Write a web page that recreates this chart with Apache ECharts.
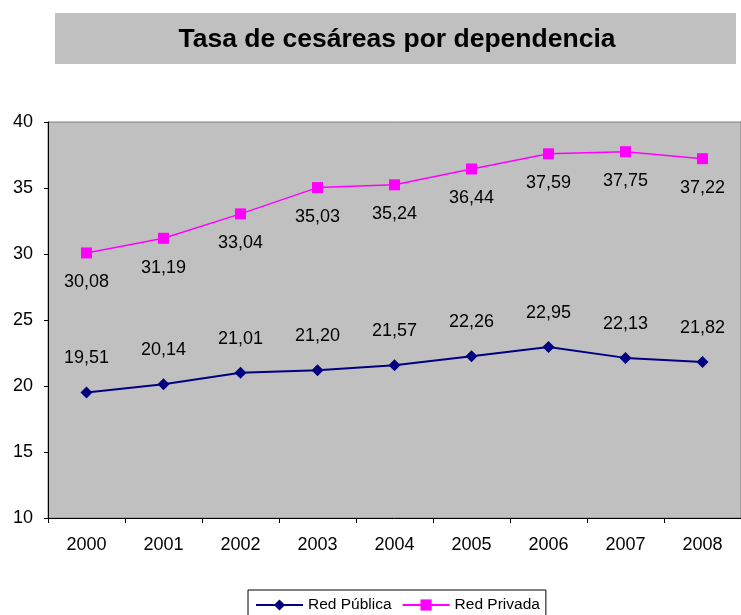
<!DOCTYPE html>
<html>
<head>
<meta charset="utf-8">
<script src="https://cdn.jsdelivr.net/npm/echarts@6/dist/echarts.min.js"></script>
<style>
html,body{margin:0;padding:0;background:#fff;}
#chart{width:741px;height:615px;}
</style>
</head>
<body>
<div id="chart"></div>
<script>
const titleText = 'Tasa de cesáreas por dependencia';
const years = ['2000','2001','2002','2003','2004','2005','2006','2007','2008'];
const redPublica = [19.51, 20.14, 21.01, 21.20, 21.57, 22.26, 22.95, 22.13, 21.82];
const redPrivada = [30.08, 31.19, 33.04, 35.03, 35.24, 36.44, 37.59, 37.75, 37.22];
const seriesNames = ['Red Pública', 'Red Privada'];

const FONT = '"Liberation Sans", Arial, sans-serif';
const fmt = p => p.value.toFixed(2).replace('.', ',');

const chart = echarts.init(document.getElementById('chart'), null, {renderer:'canvas'});
chart.setOption({
  animation: false,
  backgroundColor: '#ffffff',
  graphic: [{
    type: 'rect', z: -1,
    shape: {x: 55, y: 13, width: 681, height: 51},
    style: {fill: '#C0C0C0'}
  }],
  title: {
    text: titleText,
    left: 397, top: 26, padding: 0,
    textAlign: 'center',
    textStyle: {fontFamily: FONT, fontSize: 26.5, fontWeight: 'bold', color: '#000'}
  },
  legend: {
    data: seriesNames,
    left: 248, top: 590,
    padding: [7, 6, 14, 7],
    itemGap: 10,
    itemWidth: 47, itemHeight: 14,
    borderColor: '#000', borderWidth: 1,
    backgroundColor: '#fff',
    textStyle: {fontFamily: FONT, fontSize: 15.5, color: '#000'}
  },
  grid: {
    left: 48, top: 122, width: 702, height: 396,
    show: true, backgroundColor: '#C0C0C0',
    borderColor: '#808080', borderWidth: 1
  },
  xAxis: {
    type: 'category',
    data: years,
    boundaryGap: true,
    axisLine: {lineStyle: {color: '#000', width: 1}},
    axisTick: {show: true, length: 5, lineStyle: {color: '#000'}},
    axisLabel: {fontFamily: FONT, fontSize: 18, color: '#000', margin: 18},
    splitLine: {show: false}
  },
  yAxis: {
    type: 'value',
    min: 10, max: 40, interval: 5,
    axisLine: {show: true, lineStyle: {color: '#000', width: 1}},
    axisTick: {show: true, length: 4, lineStyle: {color: '#000'}},
    axisLabel: {fontFamily: FONT, fontSize: 18, color: '#000', margin: 15},
    splitLine: {show: false}
  },
  series: [{
    name: seriesNames[0],
    type: 'line',
    data: redPublica,
    symbol: 'diamond', symbolSize: 12,
    lineStyle: {color: '#000080', width: 2},
    itemStyle: {color: '#000080'},
    label: {show: true, position: 'top', distance: 19, formatter: fmt,
      fontFamily: FONT, fontSize: 18, color: '#000'}
  }, {
    name: seriesNames[1],
    type: 'line',
    data: redPrivada,
    symbol: 'rect', symbolSize: 11,
    lineStyle: {color: '#FF00FF', width: 1.5},
    itemStyle: {color: '#FF00FF'},
    label: {show: true, position: 'bottom', distance: 15, formatter: fmt,
      fontFamily: FONT, fontSize: 18, color: '#000'}
  }]
});
</script>
</body>
</html>
